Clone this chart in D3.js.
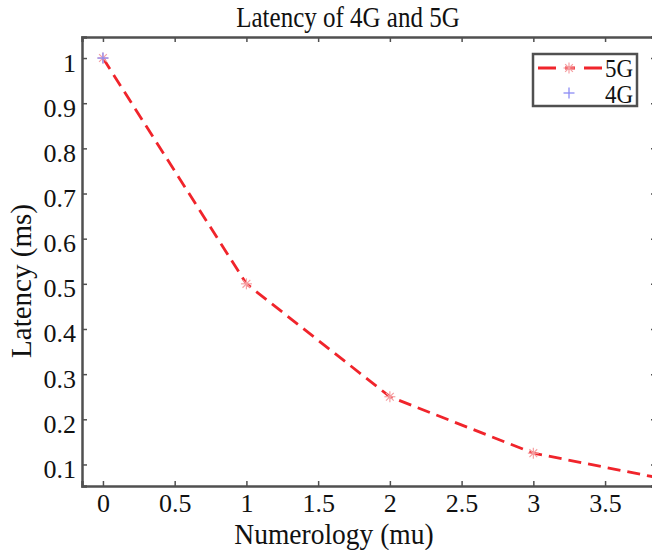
<!DOCTYPE html>
<html lang="en">
<head>
    <meta charset="UTF-8">
    <title>Latency of 4G and 5G</title>
    <script src="https://d3js.org/d3.v7.min.js"></script>
    <style>
        html, body {
            margin: 0;
            background: #fff;
        }
        text {
            font-family: "Liberation Serif", "DejaVu Serif", serif;
            fill: #111;
        }
    </style>
</head>
<body>
    <div id="vis"></div>
    <script>
        // data
        var numerology = [0, 1, 2, 3, 4];
        var latency5G = [1, 0.5, 0.25, 0.125, 0.0625];
        var numerology4G = [0];
        var latency4G = [1];
        var xTicks = [0, 0.5, 1, 1.5, 2, 2.5, 3, 3.5];
        var yTicks = [0.1, 0.2, 0.3, 0.4, 0.5, 0.6, 0.7, 0.8, 0.9, 1];

        var W = 652, H = 550;
        var margin = {top: 37, left: 82, right: -4, bottom: 64};
        var width = W - margin.left - margin.right;
        var height = H - margin.top - margin.bottom;

        var svg = d3.select('#vis').append('svg')
            .attr('width', W)
            .attr('height', H);

        var g = svg.append('g')
            .attr('transform', 'translate(' + margin.left + ',' + margin.top + ')');

        var x = d3.scaleLinear().domain([-0.146, 3.855]).range([0, width]);
        var y = d3.scaleLinear().domain([0.0523, 1.0466]).range([height, 0]);

        g.append('clipPath').attr('id', 'clip')
            .append('rect').attr('width', width).attr('height', height);

        // axes box with inward ticks, MATLAB style
        var axisColor = '#505050';
        var xB = d3.axisBottom(x).tickValues(xTicks).tickSize(-5).tickPadding(8).tickFormat(d3.format('~g'));
        var xT = d3.axisTop(x).tickValues(xTicks).tickSize(-5).tickFormat('');
        var yL = d3.axisLeft(y).tickValues(yTicks).tickSize(-5).tickPadding(6).tickFormat(d3.format('~g'));
        var yR = d3.axisRight(y).tickValues(yTicks).tickSize(-5).tickFormat('');

        function style(sel) {
            sel.select('.domain').attr('stroke', axisColor).attr('stroke-width', 2.5);
            sel.selectAll('.tick line').attr('stroke', axisColor).attr('stroke-width', 1.5);
            sel.selectAll('.tick text').style('font-size', '26px').attr('fill', '#111');
        }

        g.append('g').attr('transform', 'translate(0,' + height + ')').call(xB).call(style);
        g.append('g').call(xT).call(style);
        var yAx = g.append('g').call(yL).call(style);
        yAx.selectAll('.tick text').attr('dy', '0.5em');
        g.append('g').attr('transform', 'translate(' + width + ',0)').call(yR).call(style);

        // drop the outer tick stubs of the domain paths
        g.selectAll('.domain').attr('d', function() {
            return d3.select(this).attr('d').replace(/V6|V-6|H-6|H6/g, '');
        });

        var plot = g.append('g').attr('clip-path', 'url(#clip)');

        // 5G line
        var pts5 = numerology.map(function(d, i) { return [d, latency5G[i]]; });
        plot.append('path')
            .datum(pts5)
            .attr('fill', 'none')
            .attr('stroke', '#f0242b')
            .attr('stroke-width', 2.8)
            .attr('stroke-dasharray', '13,7')
            .attr('d', d3.line().x(function(d) { return x(d[0]); }).y(function(d) { return y(d[1]); }));

        function asterisk(sel, color) {
            var r = 5.5;
            sel.each(function() {
                var s = d3.select(this);
                [0, 45, 90, 135].forEach(function(a) {
                    var rad = a * Math.PI / 180;
                    s.append('line')
                        .attr('x1', -r * Math.cos(rad)).attr('y1', -r * Math.sin(rad))
                        .attr('x2', r * Math.cos(rad)).attr('y2', r * Math.sin(rad))
                        .attr('stroke', color).attr('stroke-width', 1.2);
                });
            });
        }

        function plus(sel, color) {
            var r = 5.5;
            sel.append('line').attr('x1', -r).attr('x2', r).attr('stroke', color).attr('stroke-width', 1.3);
            sel.append('line').attr('y1', -r).attr('y2', r).attr('stroke', color).attr('stroke-width', 1.3);
        }

        plot.selectAll('.m5').data(pts5).enter().append('g')
            .attr('class', 'm5')
            .attr('transform', function(d) { return 'translate(' + x(d[0]) + ',' + y(d[1]) + ')'; })
            .call(asterisk, '#f5a0a3');

        var pts4 = numerology4G.map(function(d, i) { return [d, latency4G[i]]; });
        plot.selectAll('.m4').data(pts4).enter().append('g')
            .attr('class', 'm4')
            .attr('transform', function(d) { return 'translate(' + x(d[0]) + ',' + y(d[1]) + ')'; })
            .call(plus, '#8c8cf5');

        // legend
        var lg = svg.append('g').attr('transform', 'translate(533,54)');
        lg.append('rect').attr('width', 104).attr('height', 52)
            .attr('fill', '#fff').attr('stroke', axisColor).attr('stroke-width', 2.5);
        lg.append('line').attr('x1', 5).attr('x2', 69).attr('y1', 14).attr('y2', 14)
            .attr('stroke', '#f0242b').attr('stroke-width', 2.8).attr('stroke-dasharray', '18,9,10,9,18');
        lg.append('g').attr('transform', 'translate(36,14)').call(asterisk, '#f5a0a3');
        lg.append('g').attr('transform', 'translate(36,39)').call(plus, '#8c8cf5');
        [['5G', 23], ['4G', 49]].forEach(function(r) {
            lg.append('g').attr('transform', 'translate(100,' + r[1] + ') scale(1,1.1)')
                .append('text').attr('text-anchor', 'end')
                .style('font-size', '23px').text(r[0]);
        });

        // titles
        svg.append('g').attr('transform', 'translate(348,27) scale(1,1.15)')
            .append('text').attr('text-anchor', 'middle')
            .style('font-size', '25px').text('Latency of 4G and 5G');
        svg.append('g').attr('transform', 'translate(334,544) scale(1,1.08)')
            .append('text').attr('text-anchor', 'middle')
            .style('font-size', '27.5px').text('Numerology (mu)');
        svg.append('text').attr('transform', 'translate(31,281) rotate(-90)').attr('text-anchor', 'middle')
            .style('font-size', '29px').text('Latency (ms)');
    </script>
</body>
</html>
